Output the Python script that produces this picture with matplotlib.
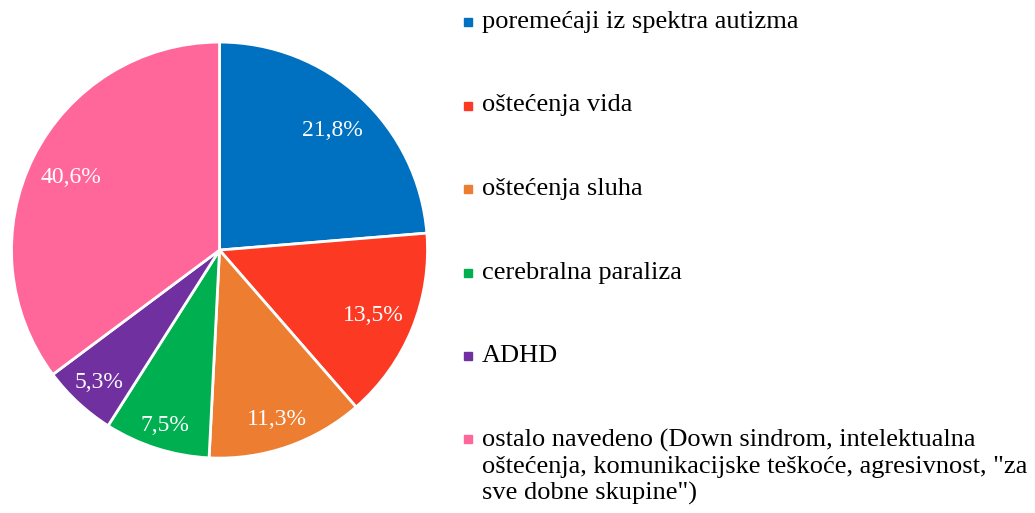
import matplotlib
matplotlib.use("Agg")
import matplotlib.pyplot as plt
import numpy as np

plt.rcParams["font.family"] = ["Liberation Serif", "DejaVu Serif"]

categories = [
    "poremećaji iz spektra autizma",
    "oštećenja vida",
    "oštećenja sluha",
    "cerebralna paraliza",
    "ADHD",
    "ostalo navedeno (Down sindrom, intelektualna\noštećenja, komunikacijske teškoće, agresivnost, \"za\nsve dobne skupine\")",
]
# printed percentages
pct_labels = ["21,8%", "13,5%", "11,3%", "7,5%", "5,3%", "40,6%"]
# slice sizes as actually drawn in the picture
drawn = [23.7, 14.9, 12.2, 8.2, 5.8, 35.2]
colors = ["#0070C0", "#FC3A23", "#ED7D31", "#00B050", "#7030A0", "#FF6699"]

fig = plt.figure(figsize=(10.35, 5.13), dpi=100)
ax = fig.add_axes([0.0111, 0.107, 0.402, 0.811])
wedges, _ = ax.pie(drawn, colors=colors, startangle=90, counterclock=False,
                   wedgeprops=dict(edgecolor="white", linewidth=2))
ax.set_xlim(-1, 1); ax.set_ylim(-1, 1); ax.set_aspect("equal")

# data labels, placed along each wedge's mid angle (best-fit style radii)
label_r = [0.80, 0.80, 0.85, 0.87, 0.85, 0.80]
for w, t, r in zip(wedges, pct_labels, label_r):
    a = np.deg2rad((w.theta1 + w.theta2) / 2)
    ax.text(r * np.cos(a), r * np.sin(a), t, ha="center", va="center_baseline",
            color="white", fontsize=17)

# legend drawn by hand: square marker + label, fixed row pitch
top = 1 - 22 / 513
pitch = 83.5 / 513
for i, (lab, c) in enumerate(zip(categories, colors)):
    y = top - i * pitch
    fig.patches.append(plt.Rectangle((464 / 1035, y - 4 / 513), 8 / 1035, 8 / 513,
                                     transform=fig.transFigure, color=c))
    fig.text(482 / 1035, y + 11 / 513, lab, ha="left", va="top", fontsize=19,
             color="black", linespacing=1.25)

fig.savefig("out.png", dpi=100, facecolor="white")
